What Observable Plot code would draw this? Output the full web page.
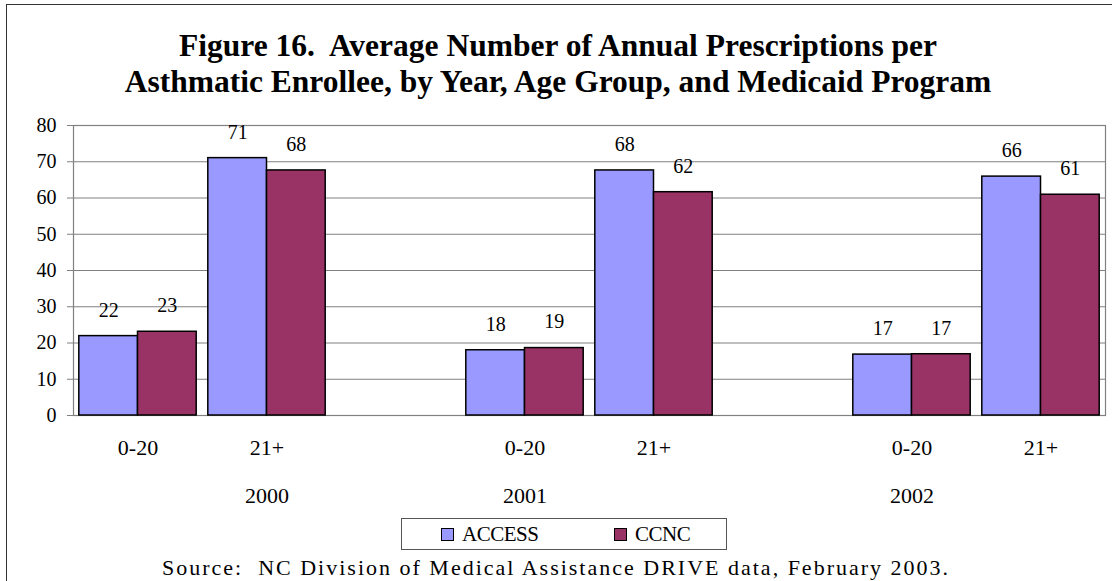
<!DOCTYPE html>
<html>
<head>
<meta charset="utf-8">
<script src="https://cdn.jsdelivr.net/npm/d3@7"></script>
<script src="https://cdn.jsdelivr.net/npm/@observablehq/plot@0.6"></script>
<style>
  html, body { margin: 0; padding: 0; background: #fff; overflow: hidden; }
  #wrap { position: relative; width: 1112px; height: 581px; overflow: hidden; font-family: "Liberation Serif", "Times New Roman", serif; }
  #border { position: absolute; left: 6px; top: 4px; width: 1200px; height: 700px; border: 1.5px solid #333; box-sizing: border-box; }
  #chart { position: absolute; left: 0; top: 0; }
  #chart svg text { font-family: "Liberation Serif", "Times New Roman", serif !important; }
  .title { position: absolute; left: 0; width: 1116px; text-align: center; font-weight: bold; font-size: 31.5px; line-height: 36px; color: #000; white-space: pre; }
  #legend { position: absolute; left: 401px; top: 518px; width: 326px; height: 32px; border: 1px solid #555; box-sizing: border-box; background: #fff; }
  .item { position: absolute; top: 0; height: 30px; line-height: 30px; font-size: 21px; letter-spacing: -0.5px; }
  .sw { display: inline-block; width: 11px; height: 11px; border: 1px solid #000; vertical-align: middle; margin-right: 8px; position: relative; top: -2px; }
  #source { position: absolute; left: 0; width: 1112px; top: 556px; text-align: center; font-size: 22px; line-height: 24px; letter-spacing: 2px; white-space: pre; }
</style>
</head>
<body>
<div id="wrap">
  <div id="border"></div>
  <div id="chart"></div>
</div>
<script>
// ---- data ----
const years = ["2000", "2001", "2002"];
const ageGroups = ["0-20", "21+"];
const programs = ["ACCESS", "CCNC"];
const accessValues = [21.9, 71.0, 18.0, 67.6, 16.8, 65.9];
const ccncValues   = [23.1, 67.6, 18.6, 61.6, 16.9, 60.9];
const slots = ["2000 0-20", "2000 21+", "gap 1", "2001 0-20", "2001 21+", "gap 2", "2002 0-20", "2002 21+"];
const yearTickSlots = ["2000 21+", "2001 0-20", "2002 0-20"];
const yTicks = [0, 10, 20, 30, 40, 50, 60, 70, 80];
const colors = ["#9999FF", "#993366"];
const titleLines = [
  "Figure 16.  Average Number of Annual Prescriptions per",
  "Asthmatic Enrollee, by Year, Age Group, and Medicaid Program"
];
const sourceText = "Source:  NC Division of Medical Assistance DRIVE data, February 2003.";

// build tables
const rowsFor = (vals) => {
  const out = [];
  years.forEach((yr, i) => ageGroups.forEach((ag, j) => {
    out.push({slot: `${yr} ${ag}`, value: vals[i * ageGroups.length + j]});
  }));
  return out;
};
const accessRows = rowsFor(accessValues);
const ccncRows = rowsFor(ccncValues);
const ageOf = s => s.startsWith("gap") ? "" : s.split(" ")[1];
const yearOf = s => s.split(" ")[0];

const W = 1112, H = 581, mL = 73, mR = 7, mT = 125, mB = 166;
const xOpts = {type: "band", domain: slots, paddingInner: 0.09, paddingOuter: 0.045, round: false};
const bw = Plot.scale({x: {...xOpts, range: [mL, W - mR]}}).bandwidth;

const font = "'Liberation Serif', 'Times New Roman', serif";
const fmt = d => d3.format(".0f")(d.value);

const chart = Plot.plot({
  width: W, height: H,
  marginTop: mT, marginBottom: mB, marginLeft: mL, marginRight: mR,
  style: {fontFamily: font, fontSize: "18px", color: "#000", background: "transparent"},
  x: {...xOpts, label: null, axis: null},
  y: {domain: [0, 80], axis: null, label: null},
  marks: [
    Plot.ruleY(yTicks, {y: d => d, stroke: "#808080", strokeWidth: 1.2, strokeOpacity: 1}),
    Plot.frame({stroke: "#808080", strokeWidth: 1.2}),
    Plot.axisY({ticks: yTicks, tickSize: 6, tickPadding: 11, fontSize: 20, fontFamily: font, stroke: "#808080", tickFormat: d3.format("d"), label: null}),
    Plot.barY(accessRows, {x: "slot", y: "value", fill: colors[0], stroke: "#000", strokeWidth: 1.5, insetRight: bw / 2}),
    Plot.barY(ccncRows, {x: "slot", y: "value", fill: colors[1], stroke: "#000", strokeWidth: 1.5, insetLeft: bw / 2}),
    Plot.text(accessRows, {x: "slot", y: "value", text: fmt, dx: -bw / 4, dy: -26, fontSize: 20, fontFamily: font, fill: "#000"}),
    Plot.text(ccncRows, {x: "slot", y: "value", text: fmt, dx: bw / 4, dy: -26, fontSize: 20, fontFamily: font, fill: "#000"}),
    Plot.axisX({ticks: slots, tickFormat: ageOf, tickSize: 0, tickPadding: 24, fontSize: 22, fontFamily: font, label: null}),
    Plot.axisX({ticks: yearTickSlots, tickFormat: yearOf, tickSize: 0, tickPadding: 72, fontSize: 22, fontFamily: font, label: null})
  ]
});
document.getElementById("chart").appendChild(chart);

const wrap = document.getElementById("wrap");
titleLines.forEach((t, i) => {
  const d = document.createElement("div");
  d.className = "title";
  d.style.top = (28 + i * 36) + "px";
  d.textContent = t;
  wrap.appendChild(d);
});
const legend = document.createElement("div");
legend.id = "legend";
programs.forEach((p, i) => {
  const it = document.createElement("div");
  it.className = "item";
  it.style.left = (i === 0 ? 39 : 212) + "px";
  const sw = document.createElement("span");
  sw.className = "sw";
  sw.style.background = colors[i];
  it.appendChild(sw);
  it.appendChild(document.createTextNode(p));
  legend.appendChild(it);
});
wrap.appendChild(legend);
const src = document.createElement("div");
src.id = "source";
src.textContent = sourceText;
wrap.appendChild(src);
</script>
</body>
</html>
